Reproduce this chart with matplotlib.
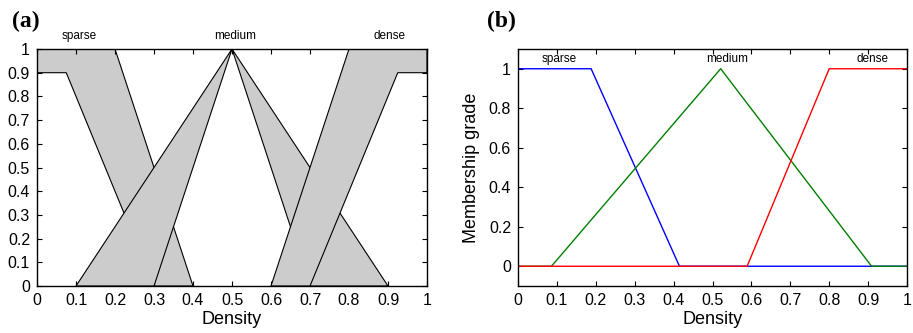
import numpy as np
import matplotlib
matplotlib.use("Agg")
import matplotlib.pyplot as plt

plt.rcParams['font.family'] = ['Liberation Sans', 'DejaVu Sans']

# ---- panel (a): interval type-2 sets (upper / lower membership functions)
sparse_upper_x = [0.0, 0.2, 0.4]
sparse_upper_y = [1.0, 1.0, 0.0]
sparse_lower_x = [0.0, 0.075, 0.3]
sparse_lower_y = [0.9, 0.9, 0.0]

medium_upper_x = [0.1, 0.5, 0.9]
medium_upper_y = [0.0, 1.0, 0.0]
medium_lower_x = [0.3, 0.5, 0.7]
medium_lower_y = [0.0, 1.0, 0.0]

dense_upper_x = [0.6, 0.8, 1.0]
dense_upper_y = [0.0, 1.0, 1.0]
dense_lower_x = [0.7, 0.925, 1.0]
dense_lower_y = [0.0, 0.9, 0.9]

# ---- panel (b): type-1 sets
sparse_x = [0.0, 0.188, 0.415, 1.0]
sparse_y = [1.0, 1.0, 0.0, 0.0]
medium_x = [0.0, 0.086, 0.521, 0.909, 1.0]
medium_y = [0.0, 0.0, 1.0, 0.0, 0.0]
dense_x = [0.0, 0.589, 0.800, 1.0]
dense_y = [0.0, 0.0, 1.0, 1.0]

set_names = ["sparse", "medium", "dense"]
label_pos_a = [0.107, 0.508, 0.905]
label_pos_b = [0.106, 0.537, 0.912]

xticks = [0, 0.1, 0.2, 0.3, 0.4, 0.5, 0.6, 0.7, 0.8, 0.9, 1]
xticklabels = ["0", "0.1", "0.2", "0.3", "0.4", "0.5", "0.6", "0.7", "0.8", "0.9", "1"]
yticks_a = xticks
yticklabels_a = xticklabels
yticks_b = [0, 0.2, 0.4, 0.6, 0.8, 1]
yticklabels_b = ["0", "0.2", "0.4", "0.6", "0.8", "1"]

fig = plt.figure(figsize=(9.13, 3.33), dpi=100)
ax1 = fig.add_axes([37/913, 47/333, 390/913, 237/333])
ax2 = fig.add_axes([518/913, 47/333, 389/913, 237/333])

gray = "#cccccc"
sets = [
    (sparse_upper_x, sparse_upper_y, sparse_lower_x, sparse_lower_y),
    (medium_upper_x, medium_upper_y, medium_lower_x, medium_lower_y),
    (dense_upper_x, dense_upper_y, dense_lower_x, dense_lower_y),
]
for i, (ux, uy, lx, ly) in enumerate(sets):
    px = np.concatenate([ux, lx[::-1]])
    py = np.concatenate([uy, ly[::-1]])
    ax1.fill(px, py, facecolor=gray, edgecolor="black", linewidth=0.8,
             joinstyle="miter", zorder=1 + i)

ax1.set_xlim(0, 1)
ax1.set_ylim(0, 1)
ax1.set_xticks(xticks)
ax1.set_xticklabels(xticklabels)
ax1.set_yticks(yticks_a)
ax1.set_yticklabels(yticklabels_a)
for name, xp in zip(set_names, label_pos_a):
    ax1.text(xp, 1.055, name, ha="center", va="center", fontsize=8.5, clip_on=False)
ax1.set_xlabel("Density", fontsize=13, labelpad=2)

ax2.plot(sparse_x, sparse_y, color="#0000ff", linewidth=1.0, zorder=3)
ax2.plot(medium_x, medium_y, color="#008000", linewidth=1.0, zorder=4)
ax2.plot(dense_x, dense_y, color="#ff0000", linewidth=1.0, zorder=5)
ax2.set_xlim(0, 1)
ax2.set_ylim(-0.1, 1.1)
ax2.set_xticks(xticks)
ax2.set_xticklabels(xticklabels)
ax2.set_yticks(yticks_b)
ax2.set_yticklabels(yticklabels_b)
for name, xp in zip(set_names, label_pos_b):
    ax2.text(xp, 1.05, name, ha="center", va="center", fontsize=8.5)
ax2.set_xlabel("Density", fontsize=13, labelpad=2)
ax2.set_ylabel("Membership grade", fontsize=13, labelpad=6)

for ax in (ax1, ax2):
    ax.tick_params(direction="in", length=3.5, width=0.8, top=True, right=True,
                   labelsize=11.5, pad=5, colors="black")
    for s in ax.spines.values():
        s.set_linewidth(1.0)
        s.set_zorder(10)

fig.text(12/913, 1 - 21/333, "(a)", fontsize=17, fontweight="bold",
         family="Liberation Serif", ha="left", va="center")
fig.text(487/913, 1 - 21/333, "(b)", fontsize=17, fontweight="bold",
         family="Liberation Serif", ha="left", va="center")

fig.savefig("out.png", dpi=100)
